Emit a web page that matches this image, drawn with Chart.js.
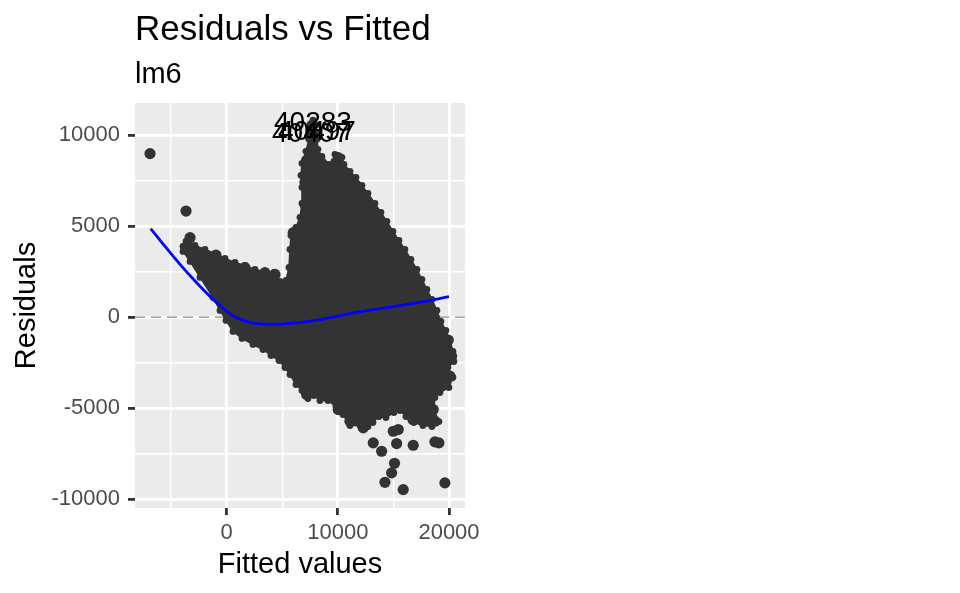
<!DOCTYPE html>
<html>
<head>
<meta charset="utf-8">
<script src="https://cdn.jsdelivr.net/npm/chart.js@4.4.1/dist/chart.umd.min.js"></script>
<style>
  html, body { margin: 0; padding: 0; background: #ffffff; }
  #wrap { width: 960px; height: 593px; }
</style>
</head>
<body>
<div id="wrap"><canvas id="chart" width="960" height="593"></canvas></div>
<script>
// residuos vs ajustados (lm6)

// eixos
const xMajor = [0, 10000, 20000];
const xMinor = [-5000, 5000, 15000];
const yMajor = [-10000, -5000, 0, 5000, 10000];
const yMinor = [-7500, -2500, 2500, 7500];

// contorno da nuvem densa de pontos
const blobX = [-3930, -3660, -2851, -1951, -1052, -153, 746, 1646, 2545, 3444, 4254, 4794, 5333,
  5603, 5693, 5783, 6232, 6592, 6772, 6772, 6682, 6772, 7131, 7401, 7491, 7761, 8031, 8121, 8210,
  8570, 9200, 9650, 9740, 10369, 10549, 11089, 11628, 12168, 12708, 13337, 13877, 14416, 14956,
  15495, 16035, 16574, 17114, 17564, 18013, 18463, 18913, 19273, 19722, 20082, 20352, 20442, 19902,
  20352, 19992, 19183, 18733, 18643, 19093, 18463, 17654, 16844, 16125, 15585, 15046, 14326, 13697,
  13157, 12708, 11988, 11089, 10459, 9830, 9110, 8390, 7851, 7311, 6772, 6232, 5693, 5243, 4703,
  3984, 3264, 2365, 1376, 567, -63, -603, -1232, -2401, -3300, -3930];
const blobY = [3885, 4160, 3940, 3720, 3500, 3225, 3005, 2840, 2621, 2511, 2456, 1962, 2017,
  2731, 3720, 4489, 4929, 5479, 6248, 7127, 7787, 8446, 9105, 9765, 10314, 10809, 10534, 9765, 9215,
  8830, 8391, 8556, 8940, 8775, 8391, 8006, 7677, 7237, 6797, 6248, 5753, 5259, 4709,
  4214, 3720, 3171, 2621, 2072, 1522, 973, 368, -236, -731, -1225, -1885, -2434, -2764,
  -3313, -3863, -4137, -4412, -5072, -5731, -6006, -5951, -5786, -5456, -5127, -5237, -5511, -5456,
  -5786, -6006, -5951, -5951, -5347, -4907, -4577, -4577, -4302, -4467, -4028, -3698, -3149, -2764, -2379,
  -2105, -1775, -1500, -1170, -786, -181, 368, 1083, 2182, 3061, 3610];

// pontos isolados / de borda
const ptX = [-6898, -3660, -3300, -962, 1646, 3444, 4344, 5989, 6052, 7041, 7041, 7194, 10036, 8993,
  7194, 8993, 10036, 11089, 12284, 13184, 13939, 15100, 14839, 14236, 15882, 14983, 15432, 15288,
  16781, 18733, 19093, 19632, 18733, 20082, 20234, 19929, 19632, 18580, 15882, 16754];
const ptY = [8979, 5825, 4363, 3407, 2715, 2440, 2346, 4638, 3720, 6193, 7402, 8611, 8759, 8210,
  -4247, -4341, -5072, -5715, -6078, -6902, -7363, -8020, -8550, -9067, -9468, -6264, -6171, -6940,
  -7034, -6847, -6902, -9100, -5715, -3242, -2143, -1264, -3698, -5072, -4907, -5622];

// observações rotuladas
const labId = ['40283', '40407', '40497'];
const labX = [7671, 7491, 8031];
const labY = [10534, 9930, 10039];

// curva suavizada
const fitX = [-6840, -5700, -4200, -2700, -900, 600, 1650, 2700, 4500, 6300, 8400, 11400, 14400, 17400, 20000];
const fitY = [4860, 4000, 2900, 1890, 790, 60, -220, -350, -390, -310, -130, 240, 520, 820, 1120];

const xMin = -8250, xMax = 21440;
const yMin = -10478, yMax = 11757;

const zip = (xs, ys) => xs.map((x, i) => ({ x, y: ys[i] }));
const isIn = (arr, v) => arr.indexOf(v) >= 0;

const panelBg = {
  id: 'panelBg',
  beforeDraw(chart) {
    const { ctx, chartArea: a } = chart;
    ctx.save();
    ctx.fillStyle = '#ffffff';
    ctx.fillRect(0, 0, chart.width, chart.height);
    ctx.fillStyle = '#EBEBEB';
    ctx.fillRect(a.left, a.top, a.right - a.left, a.bottom - a.top);
    ctx.restore();
  }
};

const texts = {
  id: 'texts',
  afterDraw(chart) {
    const { ctx, chartArea: a, scales } = chart;
    const fam = '"Liberation Sans", Arial, Helvetica, sans-serif';
    ctx.save();
    ctx.fillStyle = '#000000';
    ctx.textBaseline = 'alphabetic';
    ctx.textAlign = 'left';
    ctx.font = '35px ' + fam;
    ctx.fillText('Residuals vs Fitted', a.left, 40);
    ctx.font = '29px ' + fam;
    ctx.fillText('lm6', a.left, 83);
    ctx.textAlign = 'center';
    ctx.fillText('Fitted values', (a.left + a.right) / 2, 573);
    ctx.save();
    ctx.translate(35, (a.top + a.bottom) / 2);
    ctx.rotate(-Math.PI / 2);
    ctx.fillText('Residuals', 0, 0);
    ctx.restore();
    // rótulos das observações extremas
    ctx.font = '28px ' + fam;
    ctx.textBaseline = 'middle';
    labId.forEach((id, i) => {
      const px = scales.x.getPixelForValue(labX[i]);
      const py = scales.y.getPixelForValue(labY[i]);
      ctx.fillText(id, px + 1, py - 2);
    });
    ctx.restore();
  }
};

const gridCfg = (major) => ({
  color: '#FFFFFF',
  lineWidth: c => isIn(major, c.tick && c.tick.value) ? 2.8 : 1.4,
  tickColor: c => isIn(major, c.tick && c.tick.value) ? '#333333' : 'rgba(0,0,0,0)',
  tickWidth: 2.8,
  tickLength: 7,
  drawTicks: true
});

new Chart(document.getElementById('chart'), {
  type: 'scatter',
  data: {
    datasets: [
      {
        label: 'fit',
        data: zip(fitX, fitY),
        showLine: true,
        borderColor: '#0000FF',
        borderWidth: 2.8,
        pointRadius: 0,
        cubicInterpolationMode: 'monotone',
        fill: false,
        order: 0
      },
      {
        label: 'rotulados',
        data: zip(labX, labY),
        pointRadius: 5.6,
        backgroundColor: '#333333',
        borderWidth: 0,
        order: 1
      },
      {
        label: 'pontos',
        data: zip(ptX, ptY),
        pointRadius: 5.6,
        backgroundColor: '#333333',
        borderWidth: 0,
        order: 2
      },
      {
        label: 'nuvem',
        data: zip(blobX, blobY),
        showLine: true,
        fill: 'shape',
        backgroundColor: '#333333',
        borderColor: '#333333',
        borderWidth: 1.5,
        borderJoinStyle: 'round',
        pointRadius: 3.4,
        pointBackgroundColor: '#333333',
        pointBorderWidth: 0,
        tension: 0,
        order: 3
      },
      {
        label: 'zero',
        data: [{ x: xMin, y: 0 }, { x: xMax, y: 0 }],
        showLine: true,
        borderColor: '#8C8C8C',
        borderWidth: 1.4,
        borderDash: [10, 6],
        pointRadius: 0,
        fill: false,
        order: 4
      }
    ]
  },
  options: {
    responsive: false,
    animation: false,
    events: [],
    layout: { padding: { left: 0, right: 495, top: 103, bottom: 0 } },
    plugins: { legend: { display: false }, tooltip: { enabled: false }, title: { display: false } },
    scales: {
      x: {
        type: 'linear',
        min: xMin,
        max: xMax,
        afterBuildTicks: s => { s.ticks = [...xMajor, ...xMinor].sort((a, b) => a - b).map(v => ({ value: v })); },
        afterFit: s => { s.height = 85; },
        border: { display: false },
        grid: gridCfg(xMajor),
        ticks: {
          autoSkip: false,
          maxRotation: 0,
          padding: 5,
          color: '#4D4D4D',
          font: { family: '"Liberation Sans", Arial, sans-serif', size: 22 },
          callback: v => isIn(xMajor, v) ? String(v) : ''
        }
      },
      y: {
        type: 'linear',
        min: yMin,
        max: yMax,
        afterBuildTicks: s => { s.ticks = [...yMajor, ...yMinor].sort((a, b) => a - b).map(v => ({ value: v })); },
        afterFit: s => { s.width = 135; },
        border: { display: false },
        grid: gridCfg(yMajor),
        ticks: {
          autoSkip: false,
          padding: 8,
          color: '#4D4D4D',
          font: { family: '"Liberation Sans", Arial, sans-serif', size: 22 },
          callback: v => isIn(yMajor, v) ? String(v) : ''
        }
      }
    }
  },
  plugins: [panelBg, texts]
});
</script>
</body>
</html>
